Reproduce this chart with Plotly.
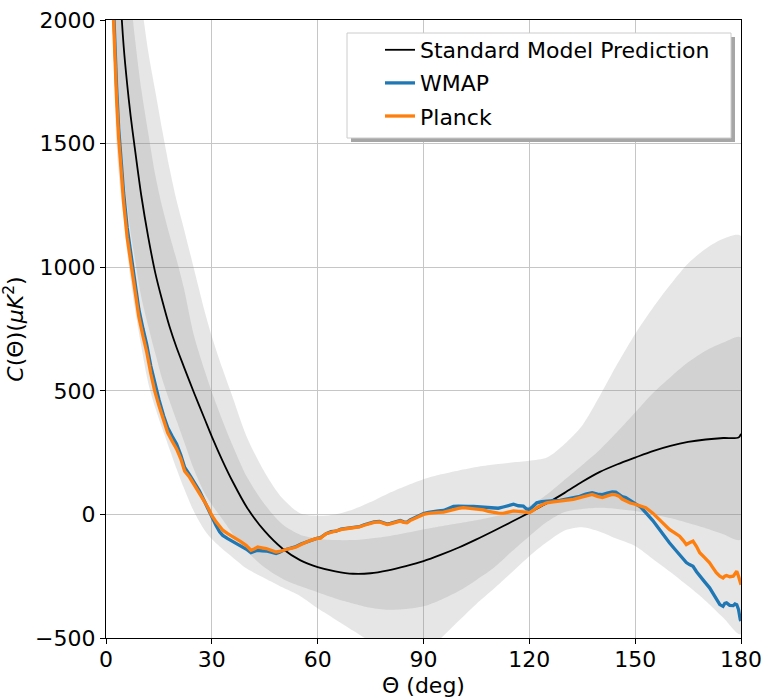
import plotly.graph_objects as go

# ---------------- data ----------------
band_x = [1, 2, 3, 4, 5, 6, 7, 8, 10, 12, 14, 16, 18, 20, 22, 25, 28, 30, 33, 36, 40, 45, 50,
          55, 60, 65, 70, 75, 80, 85, 90, 95, 100, 105, 110, 115, 120, 125, 130, 135, 140,
          145, 150, 155, 160, 165, 170, 175, 180]

light_upper = [5000, 4400, 3900, 3500, 3150, 2850, 2600, 2400, 2080, 1870, 1710, 1550, 1400, 1270,
               1160, 990, 820, 720, 590, 470, 310, 170, 65, 5, -5, 0, 20, 50, 85, 115, 142, 162,
               178, 192, 202, 210, 217, 230, 285, 360, 480, 610, 730, 835, 930, 1015, 1075, 1115, 1126]
light_lower = [2500, 2000, 1500, 1320, 1200, 1060, 950, 850, 680, 530, 430, 345, 265, 185, 110, 10,
               -65, -100, -140, -175, -220, -258, -295, -330, -380, -425, -470, -515, -560, -585,
               -570, -500, -430, -362, -300, -235, -169, -112, -65, -52, -70, -100, -128, -180,
               -233, -290, -350, -418, -485]
dark_upper = [4500, 3700, 3100, 2750, 2500, 2300, 2100, 1950, 1720, 1540, 1370, 1240, 1130, 1030,
              920, 720, 580, 495, 380, 275, 150, 40, -40, -82, -98, -104, -104, -97, -88, -75, -61,
              -48, -36, -24, -9, 10, 34, 80, 140, 200, 262, 335, 412, 490, 555, 615, 662, 695, 716]
dark_lower = [3500, 2350, 1850, 1570, 1380, 1250, 1140, 1050, 880, 760, 650, 545, 460, 380, 300,
              180, 85, 40, -20, -80, -150, -215, -260, -290, -315, -340, -360, -378, -386, -383,
              -372, -345, -310, -265, -215, -150, -88, -30, 10, 22, 27, 22, 14, 0, -15, -35, -56,
              -80, -102]

model_x = [1, 2, 3, 4, 5, 6, 7, 8, 10, 12, 14, 16, 18, 20, 22, 25, 28, 30, 33, 36, 40, 45, 50,
           55, 60, 65, 70, 75, 80, 85, 90, 95, 100, 105, 110, 115, 120, 125, 130, 135, 140,
           145, 150, 155, 160, 165, 170, 175, 179.3, 180]
model_y = [3700, 2950, 2450, 2120, 1895, 1740, 1610, 1500, 1290, 1120, 975, 862, 760, 675, 600,
           490, 385, 315, 218, 130, 27, -68, -138, -185, -213, -230, -240, -238, -226, -209,
           -189, -163, -134, -101, -66, -30, 7, 45, 87, 132, 172, 203, 230, 256, 277, 293, 303,
           309, 311, 326]

planck_x = [0.5, 1.0, 1.5, 2.0, 2.5, 3.0, 3.6, 4.3, 5.0, 6.0, 7.2, 8.2, 9.3, 10.5, 11.5, 12.7,
            13.8, 15.0, 16.3, 17.5, 18.8, 20.0, 21.2, 22.3, 23.7, 25.0, 26.5, 28.0, 29.0, 30.0,
            31.2, 32.2, 33.1, 34.5, 35.8, 36.9, 38.2, 39.7, 41.1, 42.0, 43.0, 44.2, 45.4, 46.8,
            48.2, 49.2, 50.1, 51.5, 52.8, 53.9, 55.3, 56.7, 58.0, 59.5, 60.8, 62.4, 63.8, 65.2,
            66.6, 68.0, 69.9, 71.8, 73.2, 74.6, 76.0, 77.5, 78.5, 79.7, 80.6, 82.0, 83.4, 84.4,
            85.3, 86.2, 87.2, 88.6, 90.0, 91.4, 92.8, 94.2, 95.7, 97.1, 98.5, 99.9, 101.3, 102.7,
            104.2, 105.6, 107.0, 108.4, 109.8, 111.2, 112.6, 114.0, 115.5, 116.9, 118.3, 119.2,
            120.0, 121.0, 122.1, 123.5, 124.9, 126.8, 128.7, 130.6, 132.5, 134.3, 136.0, 137.8,
            139.3, 140.7, 142.1, 143.5, 144.5, 145.4, 146.3, 147.3, 148.6, 150.0, 151.5, 153.0,
            155.0, 156.9, 158.3, 159.7, 161.2, 162.6, 163.6, 164.5, 165.4, 166.4, 167.4, 168.3,
            169.7, 171.1, 172.0, 173.0, 174.0, 174.9, 175.4, 175.9, 176.8, 177.8, 178.3, 178.8,
            179.3, 179.8, 180.0]
planck_y = [4200, 3200, 2500, 2050, 1850, 1680, 1520, 1380, 1260, 1120, 1000, 900, 800, 720, 660,
            570, 500, 440, 380, 330, 295, 265, 225, 175, 150, 120, 90, 50, 25, -4, -30, -50, -64,
            -78, -88, -98, -110, -125, -145, -140, -132, -135, -138, -145, -152, -150, -145, -140,
            -136, -132, -122, -112, -105, -98, -96, -78, -72, -69, -62, -58, -55, -51, -44, -38,
            -32, -30, -35, -41, -38, -32, -27, -32, -34, -25, -18, -8, 0, 4, 7, 8, 9, 15, 20, 24,
            27, 25, 23, 20, 18, 12, 7, 5, 4, 9, 14, 12, 9, 6, 7, 15, 27, 38, 47, 51, 54, 58, 61,
            68, 75, 81, 73, 68, 75, 81, 79, 74, 62, 54, 46, 41, 35, 27, 5, -20, -40, -61, -75,
            -88, -105, -122, -115, -108, -130, -155, -175, -196, -215, -236, -250, -257, -250,
            -247, -252, -250, -240, -230, -250, -277, -285]

wmap_x = planck_x
wmap_y = [4400, 3300, 2600, 2100, 1900, 1730, 1560, 1420, 1300, 1160, 1035, 935, 830, 750, 690,
          600, 530, 465, 400, 350, 315, 285, 240, 190, 160, 128, 95, 50, 20, -15, -45, -70, -85,
          -98, -108, -118, -128, -140, -155, -150, -145, -147, -148, -153, -158, -153, -146, -140,
          -134, -130, -120, -112, -104, -98, -94, -78, -70, -68, -60, -57, -53, -50, -42, -36,
          -30, -28, -33, -39, -36, -30, -25, -30, -32, -22, -15, -5, 3, 8, 12, 14, 16, 25, 32,
          33, 34, 32, 32, 30, 30, 27, 27, 25, 30, 37, 41, 35, 34, 22, 20, 32, 47, 52, 55, 56, 57,
          62, 65, 73, 82, 88, 82, 80, 86, 91, 90, 82, 72, 68, 55, 41, 30, 7, -25, -61, -90, -115,
          -140, -162, -182, -195, -203, -210, -232, -250, -273, -297, -318, -340, -365, -372,
          -360, -358, -368, -369, -362, -365, -385, -426, -430]

x_ticks = [0, 30, 60, 90, 120, 150, 180]
y_ticks = [-500, 0, 500, 1000, 1500, 2000]

# ---------------- figure ----------------
FONT = "DejaVu Sans"
fig = go.Figure()

band_fill = "rgba(128,128,128,0.2)"
for up, lo in [(light_upper, light_lower), (dark_upper, dark_lower)]:
    fig.add_trace(go.Scatter(
        x=band_x + band_x[::-1], y=up + lo[::-1],
        fill="toself", fillcolor=band_fill, mode="lines",
        line=dict(width=0, shape="spline", smoothing=0.8), hoverinfo="skip", showlegend=False))

fig.add_trace(go.Scatter(x=model_x, y=model_y, mode="lines", name="Standard Model Prediction",
                         line=dict(color="black", width=1.8, shape="spline", smoothing=0.8),
                         legendgroup="a"))
fig.add_trace(go.Scatter(x=wmap_x, y=wmap_y, mode="lines", name="WMAP",
                         line=dict(color="#1f77b4", width=3.3), legendgroup="b"))
fig.add_trace(go.Scatter(x=planck_x, y=planck_y, mode="lines", name="Planck",
                         line=dict(color="#ff7f0e", width=3.3), legendgroup="c"))

L, R, T, B = 106, 741, 20, 638
W, H = R - L, B - T


def px2paper(px, py):
    return (px - L) / W, 1 - (py - T) / H


# legend frame and shadow (matplotlib style)
sx0, sy0 = px2paper(351, 37)
sx1, sy1 = px2paper(735, 142)
bx0, by0 = px2paper(347, 33)
bx1, by1 = px2paper(731, 138)
fig.add_shape(type="rect", xref="paper", yref="paper", x0=sx0, y0=sy1, x1=sx1, y1=sy0,
              fillcolor="#a6a6a6", line=dict(width=0), layer="above")
fig.add_shape(type="rect", xref="paper", yref="paper", x0=bx0, y0=by1, x1=bx1, y1=by0,
              fillcolor="white", line=dict(color="#cccccc", width=1), layer="above")

lx, ly = px2paper(380, 29)
axis_common = dict(showline=True, mirror=True, linecolor="black", linewidth=1.2,
                   ticks="outside", ticklen=5, tickwidth=1.2, tickcolor="black",
                   showgrid=True, gridcolor="#c6c6c6", gridwidth=1, zeroline=False,
                   automargin=False,
                   tickfont=dict(family=FONT, size=22, color="black"))

fig.update_layout(
    width=765, height=698,
    margin=dict(l=L, r=765 - R, t=T, b=698 - B, autoexpand=False),
    paper_bgcolor="white", plot_bgcolor="white",
    font=dict(family=FONT, size=22, color="black"),
    showlegend=True,
    legend=dict(x=lx, y=ly, xanchor="left", yanchor="top", bgcolor="rgba(0,0,0,0)",
                borderwidth=0, font=dict(family=FONT, size=22, color="black"),
                traceorder="grouped", tracegroupgap=1.5),
    xaxis=dict(range=[0, 180], tickvals=x_ticks, ticklabelstandoff=-4,
               title=dict(text="Θ (deg)", standoff=12,
                          font=dict(family=FONT, size=22, color="black")),
               **axis_common),
    yaxis=dict(range=[-500, 2000], tickvals=y_ticks,
               title=dict(text="<i>C</i>(Θ)(<i>μK</i><sup>2</sup>)", standoff=8,
                          font=dict(family=FONT, size=22, color="black")),
               **axis_common),
)

fig.write_html("out.html")
